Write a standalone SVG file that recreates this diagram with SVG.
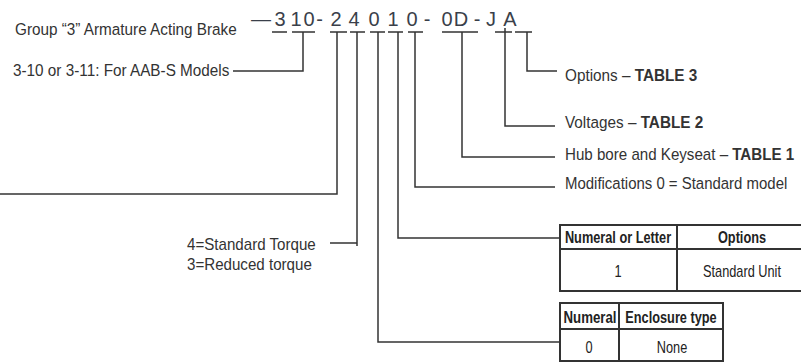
<svg xmlns="http://www.w3.org/2000/svg" width="801" height="363" viewBox="0 0 801 363">
<style>
.t{font-family:"Liberation Sans",Arial,sans-serif;font-size:17px;fill:#333}
.b{font-weight:bold}
.code{font-family:"Liberation Sans",Arial,sans-serif;font-size:20px;fill:#3a3f4a;text-anchor:middle}
.tt{font-family:"Liberation Sans",Arial,sans-serif;font-size:17px;fill:#222;text-anchor:middle}
.ln{fill:none;stroke:#333;stroke-width:1.5}
.tb{fill:none;stroke:#333;stroke-width:2}
</style>
<rect width="801" height="363" fill="#fff"/>
<g id="title">
<text class="t" transform="translate(15 35) scale(0.9 1)">Group “3” Armature Acting Brake</text>
</g>
<g id="code">
<text class="code" x="261 280 296 309 319.5 336 354 374 393 412 427 447 461 477 491 510" y="26">—310-24010-0D-JA</text>
<path class="ln" d="M272 32H287M292 32H315M330 32H347M350 32H365M370 32H385M388 32H403M408 32H423M442 32H478M495 32H512M515 32H532"/>
</g>
<g id="connectors">
<path class="ln" d="M303 32V71H233"/>
<path class="ln" d="M337 32V194H0"/>
<path class="ln" d="M357 32V246M357 243H330"/>
<path class="ln" d="M378 32V342H560"/>
<path class="ln" d="M398 32V238H560"/>
<path class="ln" d="M415 32V187H555"/>
<path class="ln" d="M462 32V157H555"/>
<path class="ln" d="M505 28V126H555"/>
<path class="ln" d="M527 32V71H557"/>
</g>
<g id="models">
<text class="t" transform="translate(13 76) scale(0.9 1)">3-10 or 3-11: For AAB-S Models</text>
</g>
<g id="torque">
<text class="t" transform="translate(187 250) scale(0.89 1)">4=Standard Torque</text>
<text class="t" transform="translate(187 270) scale(0.89 1)">3=Reduced torque</text>
</g>
<g id="options">
<text class="t" transform="translate(565 81) scale(0.9 1)">Options – <tspan class="b">TABLE 3</tspan></text>
</g>
<g id="voltages">
<text class="t" transform="translate(565 128) scale(0.9 1)">Voltages – <tspan class="b">TABLE 2</tspan></text>
</g>
<g id="hub">
<text class="t" transform="translate(565 160) scale(0.89 1)">Hub bore and Keyseat – <tspan class="b">TABLE 1</tspan></text>
</g>
<g id="modifications">
<text class="t" transform="translate(565 189) scale(0.88 1)">Modifications 0 = Standard model</text>
</g>
<g id="options-table">
<rect class="tb" x="560" y="225" width="250" height="66"/>
<path class="tb" d="M560 249H810M677 225V291"/>
<text class="tt b" transform="translate(618 243) scale(0.75 1)">Numeral or Letter</text>
<text class="tt b" transform="translate(742 243) scale(0.75 1)">Options</text>
<text class="tt" transform="translate(618 277) scale(0.75 1)">1</text>
<text class="tt" transform="translate(742 277) scale(0.75 1)">Standard Unit</text>
</g>
<g id="enclosure-table">
<rect class="tb" x="560" y="303" width="163" height="58"/>
<path class="tb" d="M560 329H723M619 303V361"/>
<text class="tt b" transform="translate(590 323) scale(0.78 1)">Numeral</text>
<text class="tt b" transform="translate(671 323) scale(0.75 1)">Enclosure type</text>
<text class="tt" transform="translate(589 353) scale(0.75 1)">0</text>
<text class="tt" transform="translate(672 353) scale(0.75 1)">None</text>
</g>
</svg>
